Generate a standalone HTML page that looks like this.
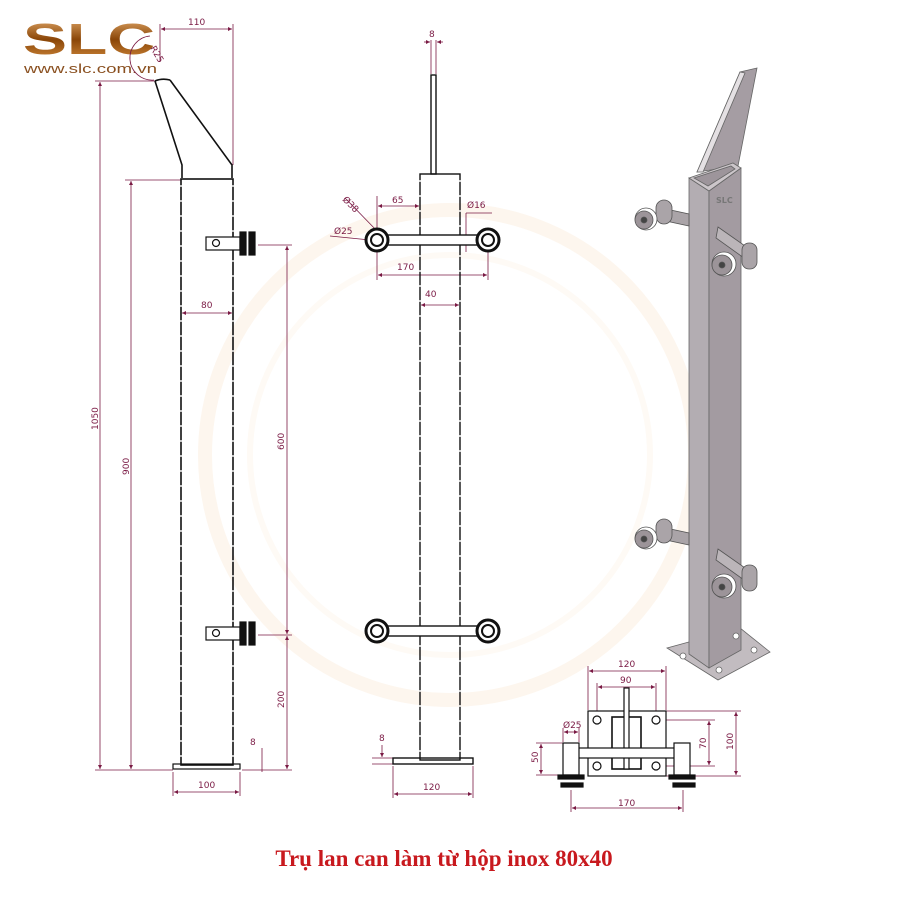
<!DOCTYPE html>
<html><head><meta charset="utf-8"><style>
html,body{margin:0;padding:0;background:#fff}
svg{display:block}
text{font-family:"DejaVu Sans","Liberation Sans",sans-serif;font-size:9px;fill:#7a1a44}
.t{font-family:"Liberation Serif",serif;font-weight:bold;font-size:23px;fill:#c8191e}
</style></head><body>
<svg width="900" height="906" viewBox="0 0 900 906" xmlns="http://www.w3.org/2000/svg">
<defs>
<marker id="a" viewBox="0 0 6 6" refX="6" refY="3" markerWidth="5" markerHeight="5" orient="auto-start-reverse"><path d="M0,0L6,3L0,6z" fill="#7a1a44"/></marker>
<linearGradient id="g" x1="0" x2="0" y1="0" y2="1"><stop offset="0" stop-color="#e8b070"/><stop offset=".5" stop-color="#8a4608"/><stop offset="1" stop-color="#d89040"/></linearGradient>
</defs>
<!-- watermark -->
<circle cx="450" cy="455" r="245" fill="none" stroke="#fdf6ee" stroke-width="14"/>
<circle cx="450" cy="455" r="200" fill="none" stroke="#fefaf5" stroke-width="6"/>
<!-- logo -->
<text x="23" y="54" textLength="132" lengthAdjust="spacingAndGlyphs" style="font-family:'Liberation Sans',sans-serif;font-size:44px;font-weight:bold;fill:url(#g)">SLC</text>
<text x="24" y="73" textLength="133" lengthAdjust="spacingAndGlyphs" style="font-family:'Liberation Sans',sans-serif;font-size:13px;fill:#8a5020">www.slc.com.vn</text>

<g stroke="#7a1a44" stroke-width="0.8" fill="none">
<line x1="160" y1="24" x2="160" y2="62"/><line x1="233" y1="24" x2="233" y2="165"/>
<line x1="161" y1="29" x2="232" y2="29" marker-start="url(#a)" marker-end="url(#a)"/>
<line x1="95" y1="81" x2="155" y2="81"/>
<line x1="100" y1="82" x2="100" y2="769" marker-start="url(#a)" marker-end="url(#a)"/>
<line x1="125" y1="180" x2="181" y2="180"/>
<line x1="131" y1="181" x2="131" y2="769" marker-start="url(#a)" marker-end="url(#a)"/>
<line x1="95" y1="770" x2="173" y2="770"/>
<line x1="182" y1="313" x2="232" y2="313" marker-start="url(#a)" marker-end="url(#a)"/>
<line x1="258" y1="245" x2="292" y2="245"/><line x1="258" y1="635" x2="292" y2="635"/><line x1="242" y1="770" x2="292" y2="770"/>
<line x1="287" y1="246" x2="287" y2="634" marker-start="url(#a)" marker-end="url(#a)"/>
<line x1="287" y1="636" x2="287" y2="769" marker-start="url(#a)" marker-end="url(#a)"/>
<line x1="262" y1="748" x2="262" y2="772"/>
<line x1="173" y1="772" x2="173" y2="796"/><line x1="240" y1="772" x2="240" y2="796"/>
<line x1="174" y1="792" x2="239" y2="792" marker-start="url(#a)" marker-end="url(#a)"/>
<path d="M154,80 A22,22 0 0 1 150,36"/>
<line x1="431" y1="40" x2="431" y2="74"/><line x1="436" y1="40" x2="436" y2="74"/>
<line x1="424" y1="42" x2="430" y2="42" marker-end="url(#a)"/><line x1="443" y1="42" x2="437" y2="42" marker-end="url(#a)"/>
<line x1="377" y1="196" x2="377" y2="238"/><line x1="488" y1="244" x2="488" y2="280"/>
<line x1="378" y1="206" x2="419" y2="206" marker-start="url(#a)" marker-end="url(#a)"/>
<line x1="378" y1="275" x2="487" y2="275" marker-start="url(#a)" marker-end="url(#a)"/>
<line x1="377" y1="244" x2="377" y2="280"/>
<line x1="421" y1="305" x2="459" y2="305" marker-start="url(#a)" marker-end="url(#a)"/>
<line x1="466" y1="213" x2="492" y2="213"/><line x1="466" y1="213" x2="466" y2="252"/>
<line x1="345" y1="198" x2="378" y2="232"/><line x1="330" y1="236" x2="370" y2="240"/>
<line x1="393" y1="766" x2="393" y2="798"/><line x1="473" y1="766" x2="473" y2="798"/>
<line x1="394" y1="794" x2="472" y2="794" marker-start="url(#a)" marker-end="url(#a)"/>
<line x1="372" y1="758" x2="393" y2="758"/><line x1="372" y1="764" x2="393" y2="764"/>
<line x1="382" y1="745" x2="382" y2="757" marker-end="url(#a)"/>
<line x1="588" y1="666" x2="588" y2="710"/><line x1="666" y1="666" x2="666" y2="710"/>
<line x1="589" y1="671" x2="665" y2="671" marker-start="url(#a)" marker-end="url(#a)"/>
<line x1="597" y1="683" x2="597" y2="718"/><line x1="656" y1="683" x2="656" y2="718"/>
<line x1="598" y1="687" x2="655" y2="687" marker-start="url(#a)" marker-end="url(#a)"/>
<line x1="666" y1="711" x2="741" y2="711"/><line x1="666" y1="776" x2="741" y2="776"/>
<line x1="736" y1="712" x2="736" y2="775" marker-start="url(#a)" marker-end="url(#a)"/>
<line x1="660" y1="720" x2="715" y2="720"/><line x1="660" y1="766" x2="715" y2="766"/>
<line x1="709" y1="721" x2="709" y2="765" marker-start="url(#a)" marker-end="url(#a)"/>
<line x1="536" y1="743" x2="565" y2="743"/><line x1="536" y1="775" x2="565" y2="775"/>
<line x1="541" y1="744" x2="541" y2="774" marker-start="url(#a)" marker-end="url(#a)"/>
<line x1="563" y1="728" x2="563" y2="742"/><line x1="579" y1="728" x2="579" y2="742"/>
<line x1="564" y1="732" x2="578" y2="732" marker-start="url(#a)" marker-end="url(#a)"/>
<line x1="571" y1="790" x2="571" y2="812"/><line x1="683" y1="790" x2="683" y2="812"/>
<line x1="572" y1="808" x2="682" y2="808" marker-start="url(#a)" marker-end="url(#a)"/>
</g>
<text x="188" y="25">110</text>
<text x="150" y="48" transform="rotate(60 150 48)">R25</text>
<text x="98" y="430" transform="rotate(-90 98 430)">1050</text>
<text x="129" y="475" transform="rotate(-90 129 475)">900</text>
<text x="201" y="308">80</text>
<text x="284" y="450" transform="rotate(-90 284 450)">600</text>
<text x="284" y="708" transform="rotate(-90 284 708)">200</text>
<text x="250" y="745">8</text>
<text x="198" y="788">100</text>
<text x="429" y="37">8</text>
<text x="342" y="200" transform="rotate(45 342 200)">Ø38</text>
<text x="334" y="234">Ø25</text>
<text x="392" y="203">65</text>
<text x="467" y="208">Ø16</text>
<text x="425" y="297">40</text>
<text x="397" y="270">170</text>
<text x="379" y="741">8</text>
<text x="423" y="790">120</text>
<text x="618" y="667">120</text>
<text x="620" y="683">90</text>
<text x="563" y="728">Ø25</text>
<text x="538" y="763" transform="rotate(-90 538 763)">50</text>
<text x="706" y="749" transform="rotate(-90 706 749)">70</text>
<text x="733" y="750" transform="rotate(-90 733 750)">100</text>
<text x="618" y="806">170</text>

<!-- left view -->
<g stroke="#111" stroke-width="1.6" fill="none">
<path d="M155,81 L182,165 L182,178"/><path d="M170,80 L232,165 L232,178"/>
<path d="M155,81 Q162,78 170,80"/>
<rect x="181" y="179" width="52" height="586"/>
<rect x="173" y="764" width="67" height="5" stroke-width="1.2"/>
</g>
<g stroke="#fff" stroke-width="1.2"><line x1="181" y1="185" x2="181" y2="760" stroke-dasharray="2 13"/><line x1="233" y1="185" x2="233" y2="760" stroke-dasharray="2 13"/></g>
<g stroke="#111" stroke-width="1.2" fill="#fff">
<rect x="206" y="237" width="34" height="13"/><circle cx="216" cy="243" r="3.5"/>
<rect x="240" y="232" width="6" height="23" fill="#111"/><rect x="249" y="232" width="6" height="23" fill="#111"/>
<rect x="206" y="627" width="34" height="13"/><circle cx="216" cy="633" r="3.5"/>
<rect x="240" y="622" width="6" height="23" fill="#111"/><rect x="249" y="622" width="6" height="23" fill="#111"/>
</g>

<!-- middle view -->
<g stroke="#111" stroke-width="1.4" fill="none">
<rect x="431" y="75" width="5" height="99"/>
<rect x="420" y="174" width="40" height="586"/>
<rect x="393" y="758" width="80" height="6"/>
<rect x="381" y="235" width="103" height="10" fill="#fff"/>
<rect x="381" y="626" width="103" height="10" fill="#fff"/>
</g>
<g stroke="#fff" stroke-width="1.2"><line x1="420" y1="180" x2="420" y2="755" stroke-dasharray="2 13"/><line x1="460" y1="180" x2="460" y2="755" stroke-dasharray="2 13"/></g>
<g stroke="#111" fill="#fff">
<circle cx="377" cy="240" r="11" stroke-width="3"/><circle cx="377" cy="240" r="6" stroke-width="2"/>
<circle cx="488" cy="240" r="11" stroke-width="3"/><circle cx="488" cy="240" r="6" stroke-width="2"/>
<circle cx="377" cy="631" r="11" stroke-width="3"/><circle cx="377" cy="631" r="6" stroke-width="2"/>
<circle cx="488" cy="631" r="11" stroke-width="3"/><circle cx="488" cy="631" r="6" stroke-width="2"/>
</g>

<!-- bottom-right plan -->
<g stroke="#111" stroke-width="1.2" fill="#fff">
<rect x="588" y="711" width="78" height="65"/>
<circle cx="597" cy="720" r="4"/><circle cx="656" cy="720" r="4"/><circle cx="597" cy="766" r="4"/><circle cx="656" cy="766" r="4"/>
<rect x="612" y="717" width="29" height="52" stroke-width="1.6"/>
<rect x="624" y="688" width="5" height="81"/>
<rect x="577" y="748" width="102" height="10"/>
<rect x="563" y="743" width="16" height="32"/><rect x="674" y="743" width="16" height="32"/>
<rect x="558" y="775" width="26" height="4" fill="#111"/><rect x="669" y="775" width="26" height="4" fill="#111"/>
<rect x="561" y="783" width="22" height="4" fill="#111"/><rect x="673" y="783" width="22" height="4" fill="#111"/>
</g>

<!-- 3D view -->
<g stroke="#666" stroke-width="0.8">
<polygon points="667,648 740,628 770,652 718,680" fill="#c2bcc0"/>
<polygon points="697,172 740,72 757,68 738,166" fill="#a59da3"/>
<polygon points="697,172 740,72 745,73 703,172" fill="#e4e0e3"/>
<polygon points="689,178 709,191 709,668 689,654" fill="#b3adb2"/>
<polygon points="709,191 741,168 741,650 709,668" fill="#a39ba1"/>
<polygon points="689,178 733,163 741,168 709,191" fill="#ccc6ca"/>
<polygon points="694,178 731,166 735,169 708,186" fill="#9d959b"/>
<circle cx="683" cy="656" r="3" fill="#fff"/><circle cx="754" cy="650" r="3" fill="#fff"/><circle cx="719" cy="670" r="3" fill="#fff"/><circle cx="736" cy="636" r="3" fill="#fff"/>
</g>
<g stroke="#555" stroke-width="0.8" fill="#aaa4a8">
<polygon points="666,209 689,214 689,226 666,221"/>
<rect x="656" y="200" width="16" height="24" rx="8"/>
<circle cx="646" cy="219" r="11" fill="#fff"/><circle cx="644" cy="220" r="9" fill="#9c9499"/><circle cx="644" cy="220" r="3" fill="#444"/>
<polygon points="718,227 748,248 744,258 716,238" fill="#bbb5b9"/>
<rect x="742" y="243" width="15" height="26" rx="7"/>
<circle cx="724" cy="264" r="12" fill="#fff"/><circle cx="722" cy="265" r="10" fill="#9c9499"/><circle cx="722" cy="265" r="3" fill="#444"/>
<polygon points="666,528 689,533 689,545 666,540"/>
<rect x="656" y="519" width="16" height="24" rx="8"/>
<circle cx="646" cy="538" r="11" fill="#fff"/><circle cx="644" cy="539" r="9" fill="#9c9499"/><circle cx="644" cy="539" r="3" fill="#444"/>
<polygon points="718,549 748,570 744,580 716,560" fill="#bbb5b9"/>
<rect x="742" y="565" width="15" height="26" rx="7"/>
<circle cx="724" cy="586" r="12" fill="#fff"/><circle cx="722" cy="587" r="10" fill="#9c9499"/><circle cx="722" cy="587" r="3" fill="#444"/>
</g>
<text x="716" y="203" style="font-size:8px;fill:#777;font-weight:bold">SLC</text>

<text class="t" x="444" y="866" text-anchor="middle">Trụ lan can làm từ hộp inox 80x40</text>
</svg>
</body></html>
